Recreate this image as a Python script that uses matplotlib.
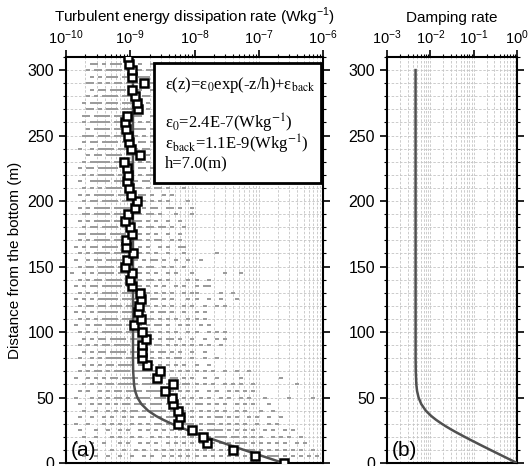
import matplotlib
matplotlib.use("Agg")
import matplotlib.pyplot as plt
import matplotlib.ticker as ticker
from matplotlib.patches import Rectangle
import numpy as np

plt.rcParams['font.family'] = ['Liberation Sans', 'DejaVu Sans']
plt.rcParams['mathtext.fontset'] = 'custom'
plt.rcParams['mathtext.rm'] = 'Liberation Sans'

# heights of the measurement bins (m)
heights = [0, 5, 10, 15, 20, 25, 30, 35, 40, 45, 50, 55, 60, 65, 70, 75, 80, 85, 90, 95,
           100, 105, 110, 115, 120, 125, 130, 135, 140, 145, 150, 155, 160, 165, 170, 175,
           180, 185, 190, 195, 200, 205, 210, 215, 220, 225, 230, 235, 240, 245, 250, 255,
           260, 265, 270, 275, 280, 285, 290, 295, 300, 305, 310]

# averaged dissipation rate per bin (open squares)
eps_mean = [2.47e-7, 8.75e-8, 3.97e-8, 1.57e-8, 1.36e-8, 9.1e-9, 5.5e-9, 5.9e-9, 5.5e-9, 4.6e-9,
            4.5e-9, 3.5e-9, 4.6e-9, 2.6e-9, 2.9e-9, 1.82e-9, 1.52e-9, 1.52e-9, 1.52e-9, 1.76e-9,
            1.52e-9, 1.14e-9, 1.45e-9, 1.3e-9, 1.37e-9, 1.47e-9, 1.42e-9, 1.06e-9, 9.9e-10, 1.06e-9,
            8.3e-10, 8.9e-10, 1.1e-9, 8.6e-10, 8.6e-10, 1.06e-9, 9.9e-10, 8.3e-10, 9.2e-10, 1.19e-9,
            1.27e-9, 1.03e-9, 9.6e-10, 8.9e-10, 9.2e-10, 8.9e-10, 8.0e-10, 1.42e-9, 1.03e-9, 9.6e-10,
            9.2e-10, 8.6e-10, 8.3e-10, 8.9e-10, 1.32e-9, 1.27e-9, 1.19e-9, 1.06e-9, 1.64e-9, 1.06e-9,
            1.06e-9, 9.6e-10, 9.2e-10]

# fitted profile (solid line)
fit_z = [0, 2, 4, 6, 8, 10, 12, 14, 16, 18, 20, 22, 24, 26, 28, 30, 33, 36, 40, 45, 50, 55, 60, 70, 80, 300]
fit_eps = [2.41e-7, 1.815e-7, 1.366e-7, 1.03e-7, 7.76e-8, 5.86e-8, 4.43e-8, 3.36e-8, 2.55e-8, 1.94e-8,
           1.49e-8, 1.15e-8, 8.88e-9, 6.95e-9, 5.5e-9, 4.4e-9, 3.25e-9, 2.5e-9, 1.89e-9, 1.49e-9,
           1.29e-9, 1.19e-9, 1.145e-9, 1.11e-9, 1.103e-9, 1.1e-9]

# damping rate profile, panel (b)
damp_z = [0, 2, 4, 6, 8, 10, 12, 14, 16, 18, 20, 22, 24, 26, 28, 30, 33, 36, 40, 45, 50, 55, 60, 70, 80, 300]
damp = [1.0, 0.753, 0.567, 0.427, 0.322, 0.243, 0.184, 0.139, 0.106, 0.0805, 0.0618, 0.0477, 0.0368,
        0.0288, 0.0228, 0.0183, 0.0135, 0.0104, 0.00784, 0.00618, 0.00535, 0.00494, 0.00475,
        0.00461, 0.00457, 0.00456]

# individual estimates (grey dots): one row per height, from 310 m down to 0 m,
# each '#' is a dot in a 1/16-decade column starting at 1e-10
dot_z = heights[::-1]
dot_rows = [
    "......#..##.##.#.#.##",
    "......##.#.###.##.#..#",
    ".....#.##.####.####.##",
    "......#.#.###.###.###..#",
    ".....##.#.#.##.###.#.#",
    "......#.##.####.###..#",
    ".....#.#.####.####.##",
    "....#.###.###.#####.#",
    ".....##.#.###.#####.#.#",
    "....##.####.####.##..#",
    "....#.#####.#####.#.#",
    ".....#.####.####.###.#",
    "....###.###.######.#.##..#",
    "....#.##.####.###.##.#..#",
    "...#..#.####.#####.##.#",
    ".....#.##.####.####.#..##",
    "....#.#####.#####.#.#.#",
    "...#.##.#####.###.##.##..#",
    "....#.#.####.####.#.###.#",
    "...#..#####.####.#.##..#",
    "....#.#.#.####.####.#.##.#...#",
    "...#.#.#####.####.##.#..#.#",
    "....#.##.####.###.##.#.#.#....#",
    "...#.#.####.####.#.#.##..##.#..#",
    "....##.####.####.##.##.#...#...#",
    "...#.#.####.###.###.#.#..#..#",
    "....#.##.####.###.#.##.##.#..#",
    "...##.####.####.#.#.#.#..#..#",
    "...#.#.####.####.##.#.##..#.#",
    "..#.#.##.####.###.#.#..#.#..##",
    "...#.#.####.####.##.#.#..#...#.......#",
    "..#..#.##.####.###.#.##.#..#..#..#",
    "...#.##.####.####.#.##..#.#..#",
    ".#..#.#.####.###.##.#.#..#.#...#.......#...#",
    "...#.#.##.####.####.##.#.#....#.#..#",
    "..#.#.##.#####.####.#.#.#..#.#..#.##",
    "...#.#.#.####.####.##.#.#.#..#.##.....#..#",
    "..#.#.#.#####.####.#.##.#.#...#.#..#..#...#",
    "...#.##.##.###.###.##.#.#.#..#.#..#..#.#",
    "..#.#.#.#####.####.#.#.##.#..#..#.#",
    "...#.#.#.####.####.###.#.#.#..#.#.#",
    "..#..#.##.####.####.#.##.#..#.#..#.#",
    "...#.#.#.#####.####.##.#.#.#..#.#..#.#.#",
    "....#.#.##.####.####.#.#.##.#..#..#..#.#",
    "...#.#.#.##.####.####.##.#.#.#.#.#.#..#",
    "....#.#.##.####.####.#.##.#.#..#..#",
    "...#..#.#.####.#####.#.#.#.##..#..#..#",
    "....#.#.#.##.####.####.#.#.#.#..#..#",
    "...#.#.##.#.####.######.#.#.#.#.#.#.#..#..#..#",
    "..#..#.#.#.##.####.####.#.##.#.#..#..#.....#.........#",
    "....#.#.#.##.#####.#####.#.#.##.#.#.#..#.#.#..#..........#",
    "...#.#..#.#.##.####.####.##.#.#.#..#.#..#.#.#.#",
    "..#...#.#.#.##.#.####.###.##.#.#.#.#..#.#..#.#...#.....#.....#",
    "...#..#.#.#.#.##.###.###.##.#.#.##.#.#.#..#.#.#...#",
    "....#..#..#.#.#.##.#.####.##.#.#.#.#.#.#..#.#...#..#",
    "...#..#..#.#..#.#.##.#.#.###.#.#.#.#.##.#.#..#.#..#..#",
    "..#..#...#.#.#..#.#.#.##.#.#.###.#.##.#.#.#.#..#..#.#",
    "...#...#..#..#.#..#.#.#.#.#.#.##.#.####.#.#.#.#..#.#..#.#",
    "....#..#...#.#..#.#..#.#.#.#.#.#.#.#.###.##.#.#.#..#.#.#..#",
    "..#...#..#...#.#..#.#.#..#.#.#.#.#.##.#.#.###.#.#.#.#.#..#.#",
    "...#...#...#..#..#.#..#.#.#.#.#.#.#.#.#.#.#.###.#.#.#.#.#.#..#",
    "....#..#..#..#..#..#.#..#.#.#.#.#.#.#.#.#.#.#.#.#.###.#.#.#.#.#",
    "...#...#...#...#..#..#..#.#.#.#.#.#.#.#.#.#.#.#.#.#.#.#.####.#.#",
]

dot_x = []
dot_y = []
for z, row in zip(dot_z, dot_rows):
    for col, ch in enumerate(row):
        if ch == '#':
            dot_x.append(10 ** (-10 + (col + 0.5) / 16))
            dot_y.append(z)

W, H = 531, 466
fig = plt.figure(figsize=(W / 100, H / 100), dpi=100)
axA = fig.add_axes([66 / W, 3 / H, 257 / W, 406 / H])
axB = fig.add_axes([387 / W, 3 / H, 130 / W, 406 / H])

lineColor = '#505050'
gridKw = dict(color='#c4c4c4', linestyle=(0, (3, 2)), linewidth=0.6)
dashMarker = [(-1.0, -0.45), (1.0, -0.45), (1.0, 0.45), (-1.0, 0.45), (-1.0, -0.45)]


def style(ax, xmin, xmax, label):
    ax.set_xscale('log')
    ax.set_xlim(xmin, xmax)
    ax.set_ylim(0, 310)
    ax.xaxis.set_ticks_position('top')
    ax.xaxis.set_label_position('top')
    ax.xaxis.set_major_locator(ticker.LogLocator(base=10, numticks=10))
    ax.xaxis.set_minor_locator(ticker.LogLocator(base=10, subs=np.arange(2, 10), numticks=20))
    ax.xaxis.set_minor_formatter(ticker.NullFormatter())
    ax.yaxis.set_major_locator(ticker.MultipleLocator(50))
    ax.yaxis.set_minor_locator(ticker.MultipleLocator(10))
    ax.tick_params(axis='both', which='major', direction='out', length=5, width=1.2)
    ax.tick_params(axis='y', which='major', labelsize=11.5)
    ax.tick_params(axis='x', which='major', labelsize=10.5, pad=2)
    ax.tick_params(axis='both', which='minor', direction='out', length=2.5, width=0.8)
    ax.tick_params(axis='y', which='both', left=True, right=True)
    ax.grid(True, which='both', **gridKw)
    ax.set_axisbelow(True)
    for sp in ax.spines.values():
        sp.set_linewidth(1.5)
    ax.set_xlabel(label, fontsize=11, labelpad=5)


style(axA, 1e-10, 1e-6, r'Turbulent energy dissipation rate (Wkg$^{\mathdefault{-1}}$)')
style(axB, 1e-3, 1, 'Damping rate')
axA.set_ylabel('Distance from the bottom (m)', fontsize=11, labelpad=4)

axA.plot(dot_x, dot_y, linestyle='none', marker=dashMarker, markersize=2.9,
         markerfacecolor='#9c9c9c', markeredgewidth=0, zorder=2)
axA.plot(fit_eps, fit_z, color=lineColor, linewidth=1.8, zorder=3)
axA.plot(eps_mean, heights, linestyle='none', marker='s', markersize=6.2,
         markerfacecolor='white', markeredgecolor='black', markeredgewidth=1.8, zorder=4)

axA.add_patch(Rectangle((0.342, 0.69), 0.652, 0.295, transform=axA.transAxes,
                        facecolor='white', edgecolor='black', linewidth=2, zorder=6))
boxText = [
    (0.921, r'ε(z)=ε$_\mathrm{0}$exp(-z/h)+ε$_\mathrm{back}$'),
    (0.824, r'ε$_\mathrm{0}$=2.4E-7(Wkg$^\mathrm{-1}$)'),
    (0.771, r'ε$_\mathrm{back}$=1.1E-9(Wkg$^\mathrm{-1}$)'),
    (0.729, 'h=7.0(m)'),
]
for yy, s in boxText:
    axA.text(0.385, yy, s, transform=axA.transAxes, fontsize=12, va='baseline', ha='left',
             family=['Liberation Serif', 'DejaVu Serif'], math_fontfamily='stix', zorder=7)

axA.text(0.02, 0.008, '(a)', transform=axA.transAxes, fontsize=15, va='bottom', ha='left', zorder=7)

axB.plot(damp, damp_z, color=lineColor, linewidth=1.8, zorder=3)
axB.text(0.04, 0.008, '(b)', transform=axB.transAxes, fontsize=15, va='bottom', ha='left', zorder=7)

fig.savefig('out.png', dpi=100)
